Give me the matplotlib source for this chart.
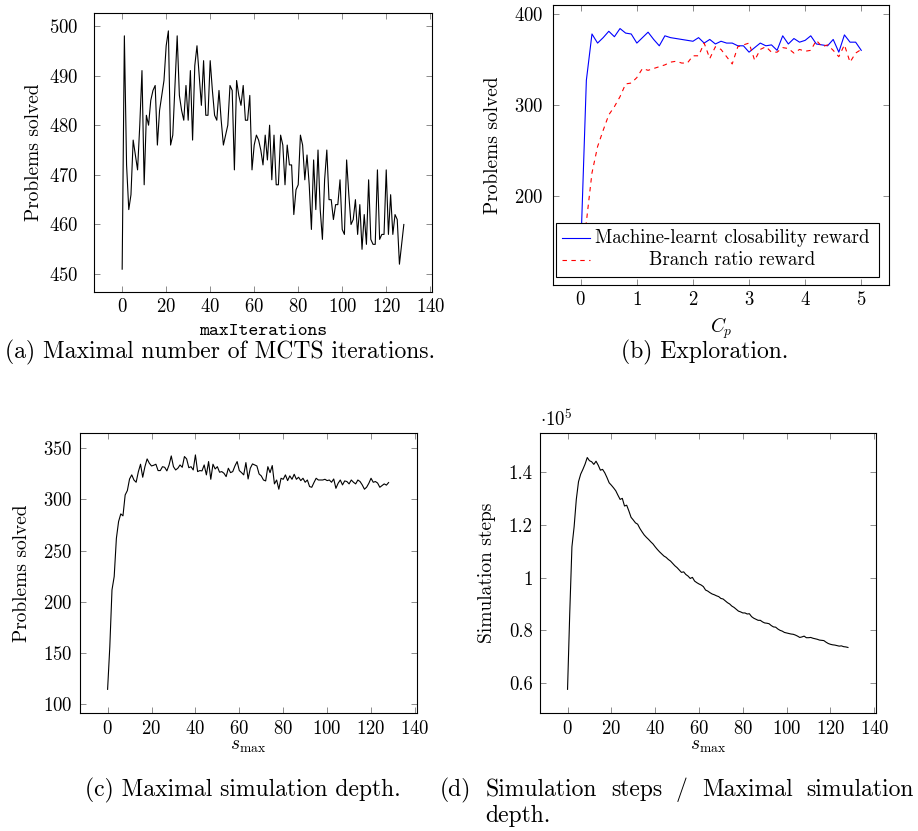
import numpy as np
import matplotlib
matplotlib.use("Agg")
import matplotlib.pyplot as plt
from matplotlib.patches import Rectangle
from matplotlib.lines import Line2D

# ---------- datos ----------
iters = np.arange(0, 129)
solved_iters = [451, 498, 472, 463, 466, 477, 474, 471, 480, 491,
                468, 482, 480, 485, 487, 488, 476, 483, 486, 489,
                496, 499, 476, 478, 488, 498, 486, 483, 481, 488,
                481, 491, 477, 492, 496, 490, 484, 493, 482, 482,
                493, 487, 482, 481, 487, 481, 476, 478, 480, 488,
                487, 471, 489, 486, 484, 488, 481, 481, 486, 471,
                476, 478, 477, 475, 472, 478, 473, 480, 469, 478,
                468, 468, 478, 476, 468, 476, 472, 472, 462, 467,
                468, 478, 476, 469, 474, 468, 459, 473, 463, 475,
                463, 457, 469, 475, 465, 465, 461, 464, 464, 469,
                459, 458, 473, 466, 460, 461, 465, 458, 464, 455,
                462, 456, 469, 457, 456, 456, 471, 457, 458, 458,
                471, 458, 466, 458, 462, 461, 452, 456, 460]

cp = np.round(np.arange(0, 5.01, 0.1), 1)
ml_reward = [140, 327, 378, 368, 374, 381, 375, 384, 379, 378,
             368, 374, 380, 372, 365, 376, 374, 373, 372, 371,
             370, 374, 368, 372, 367, 370, 368, 368, 365, 365,
             358, 363, 368, 365, 366, 360, 376, 367, 373, 369,
             371, 376, 367, 366, 365, 372, 358, 377, 369, 369,
             360]
branch_reward = [127, 171, 225, 254, 272, 289, 298, 309, 323, 324,
                 330, 340, 338, 340, 342, 344, 347, 348, 346, 346,
                 354, 354, 368, 351, 364, 361, 353, 345, 364, 366,
                 368, 349, 361, 364, 358, 358, 363, 362, 357, 361,
                 359, 360, 371, 364, 366, 360, 353, 366, 347, 357,
                 361]

smax = np.arange(0, 129)
solved_smax = [114.6, 156, 211.7, 224.7, 262, 278.4, 285.9, 284, 304.4, 308.7,
               320, 324, 319, 316.8, 327, 334.4, 321.7, 332, 339.6, 335.4,
               332.7, 333.4, 334.4, 328.2, 328.2, 332, 331.4, 327.9, 333.7, 342.5,
               332, 328.8, 330.5, 333.7, 331.4, 341.9, 339.6, 331, 332, 328.8,
               343.5, 327.2, 328.2, 327.9, 333.7, 324, 337, 319.7, 334.4, 329.8,
               332, 326.6, 327.2, 325.6, 322.3, 330.5, 326.2, 327.2, 332.7, 337,
               328.2, 326.2, 324, 336, 320, 330.5, 334.7, 333.7, 332.7, 324.9,
               323, 319, 318.1, 332, 326.2, 333.1, 315.2, 319, 310, 320.7,
               319.7, 324, 318.4, 323, 319.7, 324.6, 319.7, 321.7, 318.4, 320.7,
               316.8, 319, 312.6, 311.9, 316.5, 320.7, 319, 319, 319, 319.7,
               318.4, 319, 316.8, 320, 310.9, 315.8, 319, 314.2, 318.1, 317.5,
               315.2, 319, 316.8, 315.2, 319, 317.5, 314.2, 310, 312, 315.8,
               320.7, 316.8, 317.5, 316, 311.9, 313.5, 315.2, 314, 316.5]

sim_steps = [0.576, 0.864, 1.117, 1.193, 1.297, 1.364, 1.393, 1.411, 1.431, 1.456,
             1.444, 1.440, 1.430, 1.442, 1.427, 1.408, 1.411, 1.398, 1.380, 1.360,
             1.351, 1.341, 1.330, 1.313, 1.297, 1.301, 1.272, 1.275, 1.253, 1.229,
             1.219, 1.208, 1.203, 1.187, 1.174, 1.162, 1.153, 1.145, 1.136, 1.128,
             1.117, 1.107, 1.098, 1.090, 1.082, 1.077, 1.069, 1.063, 1.054, 1.045,
             1.038, 1.029, 1.020, 1.022, 1.012, 1.006, 0.997, 1.001, 0.987, 0.981,
             0.976, 0.972, 0.966, 0.953, 0.949, 0.943, 0.938, 0.935, 0.931, 0.928,
             0.921, 0.919, 0.912, 0.905, 0.900, 0.892, 0.887, 0.880, 0.873, 0.870,
             0.866, 0.866, 0.862, 0.863, 0.852, 0.846, 0.842, 0.838, 0.838, 0.832,
             0.828, 0.827, 0.825, 0.818, 0.813, 0.812, 0.805, 0.800, 0.797, 0.792,
             0.790, 0.788, 0.786, 0.785, 0.782, 0.778, 0.773, 0.775, 0.778, 0.772,
             0.772, 0.773, 0.770, 0.768, 0.766, 0.763, 0.762, 0.761, 0.755, 0.750,
             0.747, 0.745, 0.744, 0.742, 0.740, 0.741, 0.738, 0.737, 0.735]

ticks_iter = [0, 20, 40, 60, 80, 100, 120, 140]
ticks_a_y = [450, 460, 470, 480, 490, 500]
ticks_b_x = [0, 1, 2, 3, 4, 5]
ticks_b_y = [200, 300, 400]
ticks_c_y = [100, 150, 200, 250, 300, 350]
ticks_d_y = [0.6, 0.8, 1.0, 1.2, 1.4]
labels_d_y = ["0.6", "0.8", "1", "1.2", "1.4"]

# ---------- estilo tipo pgfplots ----------
plt.rcParams["font.family"] = "cmr10"
plt.rcParams["mathtext.fontset"] = "cm"
plt.rcParams["axes.formatter.use_mathtext"] = True

FS = 13.5      # ticks, ejes y leyenda
FL = 14        # etiquetas de los ejes
CAP = 17       # subtitulos

W, H = 918, 831
fig = plt.figure(figsize=(W / 100, H / 100), dpi=100)


def px_axes(left, top, right, bottom):
    # paso de pixeles de la imagen a coordenadas de figura
    return fig.add_axes([left / W, 1 - bottom / H, (right - left) / W, (bottom - top) / H])


def estilo(ax, ypad):
    ax.tick_params(direction="in", top=True, right=True, length=4.3, width=0.7,
                   color="#8c8c8c", labelsize=FS, labelcolor="black")
    ax.tick_params(axis="x", pad=4.5)
    ax.tick_params(axis="y", pad=ypad)
    for s in ax.spines.values():
        s.set_linewidth(0.8)


def etiquetas(ax, xl, yl, xy, yx, xfont=None):
    if xfont:
        ax.set_xlabel(xl, family=xfont, fontsize=FS)
    else:
        ax.set_xlabel(xl, fontsize=FL)
    ax.set_ylabel(yl, fontsize=FL)
    ax.xaxis.set_label_coords(0.5, xy)
    ax.xaxis.label.set_va("center")
    ax.yaxis.set_label_coords(yx, 0.5)
    ax.yaxis.label.set_va("center")


# (a)
ax1 = px_axes(94, 13, 432, 292)
ax1.plot(iters, solved_iters, color="black", lw=0.8)
ax1.set_xlim(-12.8, 140.8)
ax1.set_ylim(446.4, 502.6)
ax1.set_xticks(ticks_iter)
ax1.set_yticks(ticks_a_y)
estilo(ax1, 11)
etiquetas(ax1, "maxIterations", "Problems solved", -0.14, -0.176, xfont="cmtt10")

# (b)
ax2 = px_axes(552.7, 5.3, 889.3, 285)
ax2.plot(cp, ml_reward, color="blue", lw=0.8)
ax2.plot(cp, branch_reward, color="red", lw=0.8, linestyle=(0, (4, 4)))
ax2.set_xlim(-0.5, 5.5)
ax2.set_ylim(101.6, 409.6)
ax2.set_xticks(ticks_b_x)
ax2.set_yticks(ticks_b_y)
estilo(ax2, 7)
etiquetas(ax2, r"$C_p$", "Problems solved", -0.154, -0.177)

# leyenda a mano para centrar los textos como pgfplots
ax2.add_patch(Rectangle((0.0098, 0.0297), 0.9602, 0.1909, transform=ax2.transAxes,
                        facecolor="white", edgecolor="black", lw=0.8, zorder=5))
ax2.add_line(Line2D([0.027, 0.111], [0.167, 0.167], transform=ax2.transAxes,
                    color="blue", lw=0.8, zorder=6))
ax2.add_line(Line2D([0.027, 0.111], [0.089, 0.089], transform=ax2.transAxes,
                    color="red", lw=0.8, linestyle=(0, (4, 4)), zorder=6))
ax2.text(0.534, 0.167, "Machine-learnt closability reward", transform=ax2.transAxes,
         ha="center", va="center", fontsize=FS, zorder=6)
ax2.text(0.534, 0.089, "Branch ratio reward", transform=ax2.transAxes,
         ha="center", va="center", fontsize=FS, zorder=6)

# (c)
ax3 = px_axes(79.5, 433.3, 416.7, 713.3)
ax3.plot(smax, solved_smax, color="black", lw=0.8)
ax3.set_xlim(-12.8, 140.8)
ax3.set_ylim(91.2, 364.6)
ax3.set_xticks(ticks_iter)
ax3.set_yticks(ticks_c_y)
estilo(ax3, 5)
etiquetas(ax3, r"$s_{\max}$", "Problems solved", -0.117, -0.171)

# (d)
ax4 = px_axes(539.5, 433.3, 876, 713.3)
ax4.plot(smax, sim_steps, color="black", lw=0.8)
ax4.set_xlim(-12.8, 140.8)
ax4.set_ylim(0.485, 1.548)
ax4.set_xticks(ticks_iter)
ax4.set_yticks(ticks_d_y)
ax4.set_yticklabels(labels_d_y)
estilo(ax4, 5)
etiquetas(ax4, r"$s_{\max}$", "Simulation steps", -0.117, -0.156)
ax4.text(0.0, 1.012, r"$\cdot 10^5$", transform=ax4.transAxes, ha="left", va="bottom", fontsize=FS)

# subtitulos
fig.text(220 / W, 1 - 352 / H, "(a) Maximal number of MCTS iterations.", ha="center", va="center", fontsize=CAP)
fig.text(705 / W, 1 - 352 / H, "(b) Exploration.", ha="center", va="center", fontsize=CAP)
fig.text(243 / W, 1 - 790 / H, "(c) Maximal simulation depth.", ha="center", va="center", fontsize=CAP)

# el subtitulo (d) esta justificado como en LaTeX: repartir las palabras entre x0 y x1
palabras = ["(d)", "Simulation", "steps", "/", "Maximal", "simulation"]
x0, x1 = 440, 914
rend = fig.canvas.get_renderer()
textos = [fig.text(0, 1 - 790 / H, p, ha="left", va="center", fontsize=CAP) for p in palabras]
anchos = [t.get_window_extent(rend).width for t in textos]
hueco = (x1 - x0 - sum(anchos)) / (len(palabras) - 1)
x = x0
for t, w in zip(textos, anchos):
    t.set_x(x / W)
    x += w + hueco
sangria = x0 + anchos[0] + hueco
fig.text(sangria / W, 1 - 816 / H, "depth.", ha="left", va="center", fontsize=CAP)

fig.savefig("out.png", dpi=100)
